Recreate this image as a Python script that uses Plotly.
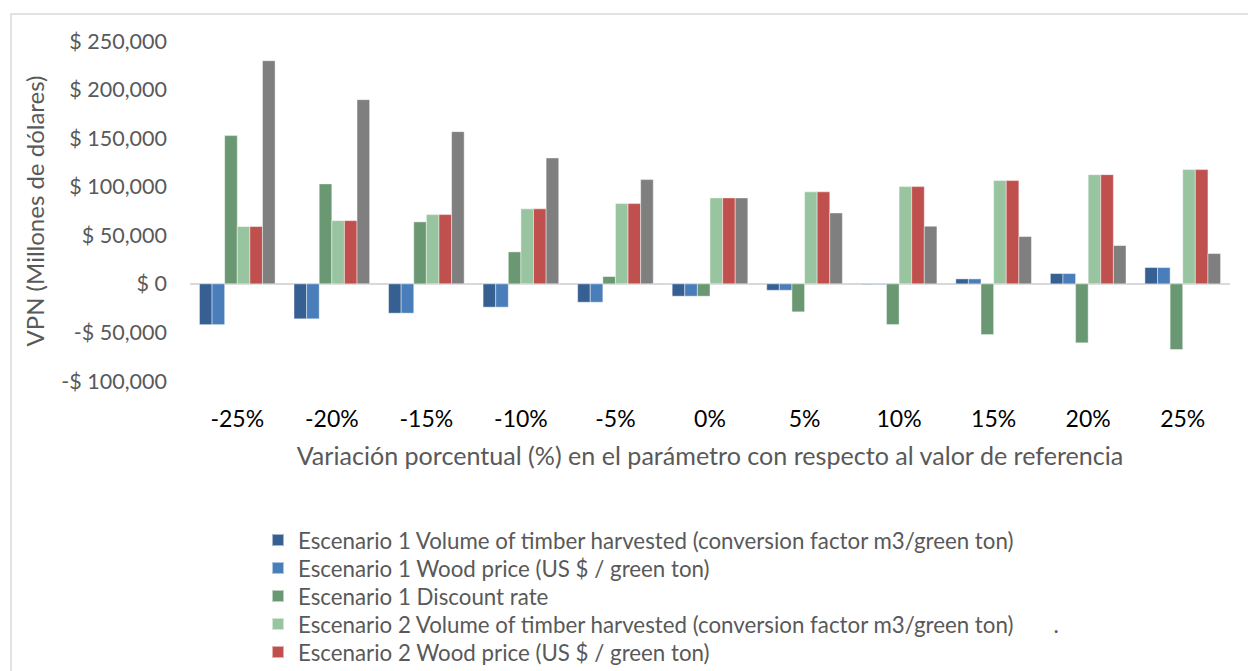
import plotly.graph_objects as go

# Percentage variation in the parameter relative to the reference value
categories = ["-25%", "-20%", "-15%", "-10%", "-5%", "0%", "5%", "10%", "15%", "20%", "25%"]

# NPV (millions of dollars) per sensitivity scenario
esc1_volume = [-42000, -36000, -30200, -24000, -18900, -12700, -6600, -700, 5100, 10600, 16800]
esc1_price = [-42000, -36000, -30200, -24000, -18900, -12700, -6600, -700, 5100, 10600, 16800]
esc1_discount = [152600, 102900, 63800, 32900, 7500, -12700, -28800, -41900, -52200, -60700, -67600]
esc2_volume = [59000, 65100, 71300, 77200, 82600, 88500, 94700, 100100, 106300, 112400, 117600]
esc2_price = [59000, 65100, 71300, 77200, 82600, 88500, 94700, 100100, 106300, 112400, 117600]
esc2_discount = [229700, 189600, 156700, 129600, 107300, 88500, 73000, 59300, 48700, 39400, 31200]

series_names = [
    "Escenario 1 Volume of timber harvested (conversion factor m3/green ton)",
    "Escenario 1 Wood price (US $ / green ton)",
    "Escenario 1 Discount rate",
    "Escenario 2 Volume of timber harvested (conversion factor m3/green ton)"
    + "&nbsp;" * 7 + ".",
    "Escenario 2 Wood price (US $ / green ton)",
    "Escenario 2 Discount rate",
]
series_values = [esc1_volume, esc1_price, esc1_discount, esc2_volume, esc2_price, esc2_discount]
series_colors = ["#376092", "#4a7ebb", "#6a9873", "#98c5a0", "#c0504d", "#7f7f7f"]

y_tickvals = [250000, 200000, 150000, 100000, 50000, 0, -50000, -100000]
y_ticktext = ["$ 250,000", "$ 200,000", "$ 150,000", "$ 100,000", "$ 50,000", "$ 0",
              "-$ 50,000", "-$ 100,000"]

FONT = "Lato, 'Open Sans', sans-serif"
GREY_TXT = "#595959"

W, H = 1248, 700
L, R, T, B = 190, 18, 41, H - 381
plot_w, plot_h = W - L - R, H - T - B


def px_x(p):
    return (p - L) / plot_w


def px_y(p):
    return (H - B - p) / plot_h


# one single-entry legend per series, stacked at a fixed row pitch
legend_ids = ["legend"] + [f"legend{i}" for i in range(2, len(series_names) + 1)]
ROW0, PITCH, TOP_OFFSET = 542, 28, 23

fig = go.Figure()
for name, vals, col, lid in zip(series_names, series_values, series_colors, legend_ids):
    fig.add_trace(go.Bar(
        x=categories, y=vals, name=name, legend=lid,
        marker=dict(color=col, line=dict(color="rgba(255,255,255,0.55)", width=0.8)),
    ))

legend_layouts = {}
for i, lid in enumerate(legend_ids):
    legend_layouts[lid] = dict(
        x=px_x(258), y=px_y(ROW0 + i * PITCH - TOP_OFFSET), xanchor="left", yanchor="top",
        font=dict(size=22.3, color=GREY_TXT, family=FONT),
        itemsizing="constant", bgcolor="rgba(0,0,0,0)",
    )

fig.update_layout(
    width=W, height=H,
    margin=dict(l=L, r=R, t=T, b=B, autoexpand=False),
    paper_bgcolor="white", plot_bgcolor="white",
    barmode="group", bargap=0.2, bargroupgap=0,
    font=dict(family=FONT, color=GREY_TXT),
    showlegend=True,
    xaxis=dict(
        type="category",
        showgrid=False, showline=False, zeroline=False, ticks="",
        tickfont=dict(size=23, color="#000000", family=FONT),
        ticklabelstandoff=22,
        title=dict(
            text="Variación porcentual (%) en el parámetro con respecto al valor de referencia",
            font=dict(size=25.1, color=GREY_TXT, family=FONT), standoff=16,
        ),
    ),
    yaxis=dict(
        range=[-100000, 250000],
        tickvals=y_tickvals, ticktext=y_ticktext,
        showgrid=False, showline=False,
        zeroline=True, zerolinecolor="#d9d9d9", zerolinewidth=2,
        tickfont=dict(size=21.5, color=GREY_TXT, family=FONT),
        ticklabelstandoff=22,
        title=dict(text="VPN (Millones de dólares)",
                   font=dict(size=24, color=GREY_TXT, family=FONT), standoff=9),
    ),
    shapes=[dict(
        type="rect", xref="paper", yref="paper",
        x0=px_x(11), x1=px_x(1252), y0=px_y(14), y1=px_y(760),
        line=dict(color="#d9d9d9", width=1.5), fillcolor="rgba(0,0,0,0)", layer="below",
    )],
    **legend_layouts,
)

fig.write_html("out.html")
